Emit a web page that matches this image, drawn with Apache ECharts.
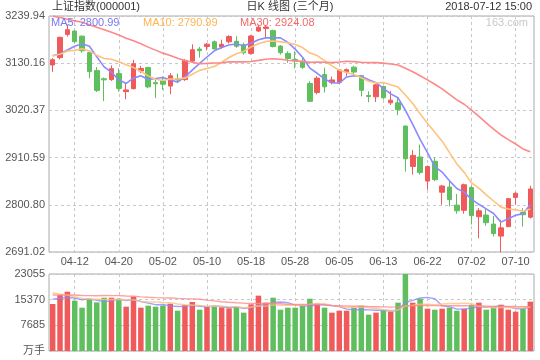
<!DOCTYPE html>
<html><head><meta charset="utf-8">
<script src="https://cdn.jsdelivr.net/npm/echarts@6/dist/echarts.min.js"></script>
<style>html,body{margin:0;padding:0;background:#fff}#c{width:540px;height:360px}</style>
</head><body><div id="c"></div>
<script>
const dates = ['04-09','04-10','04-11','04-12','04-13','04-16','04-17','04-18','04-19','04-20',
'04-23','04-24','04-25','04-26','04-27','05-02','05-03','05-04','05-07','05-08',
'05-09','05-10','05-11','05-14','05-15','05-16','05-17','05-18','05-21','05-22',
'05-23','05-24','05-25','05-28','05-29','05-30','05-31','06-01','06-04','06-05',
'06-06','06-07','06-08','06-11','06-12','06-13','06-14','06-15','06-19','06-20',
'06-21','06-22','06-25','06-26','06-27','06-28','06-29','07-02','07-03','07-04',
'07-05','07-06','07-09','07-10','07-11','07-12'];
const opens = [3126,3143,3197,3205,3193,3155,3113,3094,3092,3106,
3064,3071,3112,3120,3085,3089,3077,3094,3092,3135,
3163,3169,3180,3168,3180,3181,3173,3153,3205,3211,
3206,3170,3153,3139,3134,3083,3062,3104,3085,3086,
3110,3121,3101,3055,3052,3076,3038,3038,2984,2890,
2912,2856,2902,2830,2842,2800,2788,2841,2773,2777,
2756,2728,2750,2818,2783,2772];
const closes = [3138.29,3190.32,3208.08,3180.16,3159.05,3110.65,3066.80,3091.40,3117.38,3071.54,
3068.01,3128.93,3117.97,3075.03,3082.23,3081.18,3100.86,3091.03,3136.65,3161.50,
3159.15,3174.41,3163.26,3174.03,3192.12,3169.57,3154.28,3193.30,3213.84,3214.35,
3168.96,3154.65,3141.30,3135.08,3120.46,3041.44,3095.47,3075.14,3091.19,3114.21,
3115.18,3109.50,3067.15,3052.78,3079.80,3049.80,3044.16,3021.90,2907.82,2915.73,
2875.81,2889.76,2859.34,2844.51,2813.18,2786.90,2847.42,2775.56,2786.89,2759.13,
2733.88,2747.23,2815.11,2827.63,2777.77,2837.66];
const lows = [3110,3139,3192,3176,3155,3095,3063,3042,3089,3064,
3046,3069,3107,3072,3049,3068,3058,3087,3089,3133,
3143,3160,3163,3164,3176,3166,3150,3150,3203,3189,
3167,3150,3131,3118,3117,3040,3058,3062,3081,3082,
3100,3104,3053,3039,3040,3046,3033,3009,2878,2871,
2871,2836,2856,2801,2797,2780,2780,2755,2723,2752,
2727,2691.02,2749,2801,2750,2769];
const highs = [3142,3192,3220,3207,3195,3157,3121,3097,3125,3118,
3084,3138,3124,3122,3093,3099,3107,3106,3140,3174,
3168,3177,3183,3185,3195,3193,3178,3196,3219,3219,
3208,3172,3158,3158,3142,3088,3100,3120,3099,3116,
3118,3124,3103,3065,3081,3078,3066,3050,2985,2928,
2941,2892,2911,2847,2855,2826,2850,2845,2793,2791,
2775,2766,2816,2830,2793,2845];
const volumes = [14072,16766,17760,15064,12970,15570,14570,15960,15960,15660,
13270,16270,12970,13570,13270,13570,14170,12070,13770,14670,
12370,13270,13270,13070,12770,13270,11480,13970,16570,14470,
15960,12370,12970,12970,13470,15660,14170,12970,11480,12070,
12070,12970,13570,10880,11480,12070,11780,14470,23055,14470,
15660,12670,12370,12670,12970,12070,12670,13870,14470,12370,
12970,13870,12370,11780,12670,14770];
// closes / volumes of the 29 sessions before 04-09 (only feed the moving averages)
const priorCloses = [3289.0,3329.6,3292.1,3259.4,3273.8,3254.5,3256.9,3289.6,3271.7,3288.4,
3307.2,3326.7,3310.2,3291.4,3291.1,3269.9,3279.3,3290.6,3280.9,3263.5,
3152.8,3133.7,3166.7,3122.3,3160.5,3168.9,3163.2,3136.6,3131.1];
const priorVolumes = [17500,16200,15800,17000,16900,15500,14800,16500,15600,17200,
18100,18800,17000,16200,15900,14900,16100,16800,15900,15900,
21500,19800,20500,17800,17500,15200,16600,15800,15728];
const priceTicks = [2691.02,2800.80,2910.59,3020.37,3130.16,3239.94];
const volumeTicks = [0,7685,15370,23055];
const dateTicks = ['04-12','04-20','05-02','05-10','05-18','05-28','06-05','06-13','06-22','07-02','07-10'];
const maPeriods = [5,10,30];
const legendTexts = ['MA5: 2800.99','MA10: 2790.99','MA30: 2924.08'];
const titleTexts = ['上证指数(000001)','日K 线图 (三个月)','2018-07-12 15:00','163.com'];

const RED = '#f05a5a', GREEN = '#5fbf5f';
const maLine = ['#8a8aff','#ffc27e','#ff8888'];
const maText = ['#7777f0','#ffb54f','#f26a6a'];
const FONT = '"Liberation Sans","Noto Sans CJK SC",sans-serif';

const N = dates.length;
const idx = dates.map((d,i)=>i);
const tickIdx = dateTicks.map(d=>dates.indexOf(d));
function ma(n, cur, prior){
  const all = prior.concat(cur), off = prior.length;
  return cur.map((_,i)=>{let s=0;for(let k=i+off-n+1;k<=i+off;k++)s+=all[k];return [i,s/n];});
}
const xCommon = (gi, showLabel) => ({
  type:'value', gridIndex:gi, min:-0.5, max:N-0.5,
  axisLine:{show:false},
  axisTick:{show:false, customValues:tickIdx},
  axisLabel:{show:showLabel, customValues:tickIdx, formatter:v=>dates[v], color:'#555', fontSize:11, fontFamily:FONT, margin:4},
  splitLine:{show:true, lineStyle:{color:'#c8c8c8', type:[3,3], width:1}}
});
const series = [];
series.push({
  type:'candlestick', xAxisIndex:0, yAxisIndex:0, barWidth:5,
  data: idx.map(i=>[i,opens[i],closes[i],lows[i],highs[i]]),
  itemStyle:{color:RED,color0:GREEN,borderColor:RED,borderColor0:GREEN,borderWidth:1}
});
maPeriods.forEach((n,k)=>{
  series.push({type:'line', xAxisIndex:0, yAxisIndex:0, symbol:'none', z:3,
    data: ma(n, closes, priorCloses), lineStyle:{color:maLine[k], width:1.6}});
});
series.push({
  type:'bar', xAxisIndex:1, yAxisIndex:1, barWidth:5.5,
  data: idx.map(i=>({value:[i,volumes[i]], itemStyle:{color: closes[i]>=opens[i]?RED:GREEN}}))
});
maPeriods.forEach((n,k)=>{
  series.push({type:'line', xAxisIndex:1, yAxisIndex:1, symbol:'none', z:3,
    data: ma(n, volumes, priorVolumes), lineStyle:{color:maLine[k], width:1.4, opacity:0.8}});
});
const txt = (x,y,t,fill,align) => ({type:'text', z:100, style:{x:x,y:y,text:t,fill:fill,font:'11px '+FONT,textAlign:align||'left',textVerticalAlign:'middle'}});
const chart = echarts.init(document.getElementById('c'), null, {renderer:'canvas'});
chart.setOption({
  animation:false,
  backgroundColor:'#fff',
  grid:[
    {left:49,right:6,top:16,height:236,show:true,borderColor:'#aaa',borderWidth:1,backgroundColor:'transparent'},
    {left:49,right:6,top:274,height:77,show:true,borderColor:'#aaa',borderWidth:1,backgroundColor:'transparent'}
  ],
  xAxis:[xCommon(0,true), xCommon(1,false)],
  yAxis:[
    {type:'value', gridIndex:0, min:priceTicks[0], max:priceTicks[priceTicks.length-1],
     axisLine:{show:false}, axisTick:{show:false, customValues:priceTicks},
     axisLabel:{customValues:priceTicks, formatter:v=>v.toFixed(2), color:'#555', fontSize:11, fontFamily:FONT, margin:4},
     splitLine:{show:true, lineStyle:{color:'#c8c8c8', type:[3,3]}}},
    {type:'value', gridIndex:1, min:0, max:volumeTicks[volumeTicks.length-1], interval:volumeTicks[1],
     axisLine:{show:false}, axisTick:{show:false},
     axisLabel:{formatter:v=>v===0?'万手':String(v), color:'#555', fontSize:11, fontFamily:FONT, margin:4},
     splitLine:{show:true, lineStyle:{color:'#c8c8c8', type:[3,3]}}}
  ],
  graphic:[
    txt(52,7,titleTexts[0],'#333'),
    txt(290,7,titleTexts[1],'#333','center'),
    txt(532,7,titleTexts[2],'#333','right'),
    txt(51,22.5,legendTexts[0],maText[0]),
    txt(143,22.5,legendTexts[1],maText[1]),
    txt(240,22.5,legendTexts[2],maText[2]),
    txt(528,22.5,titleTexts[3],'#c8c8c8','right')
  ],
  series:series
});
</script></body></html>
